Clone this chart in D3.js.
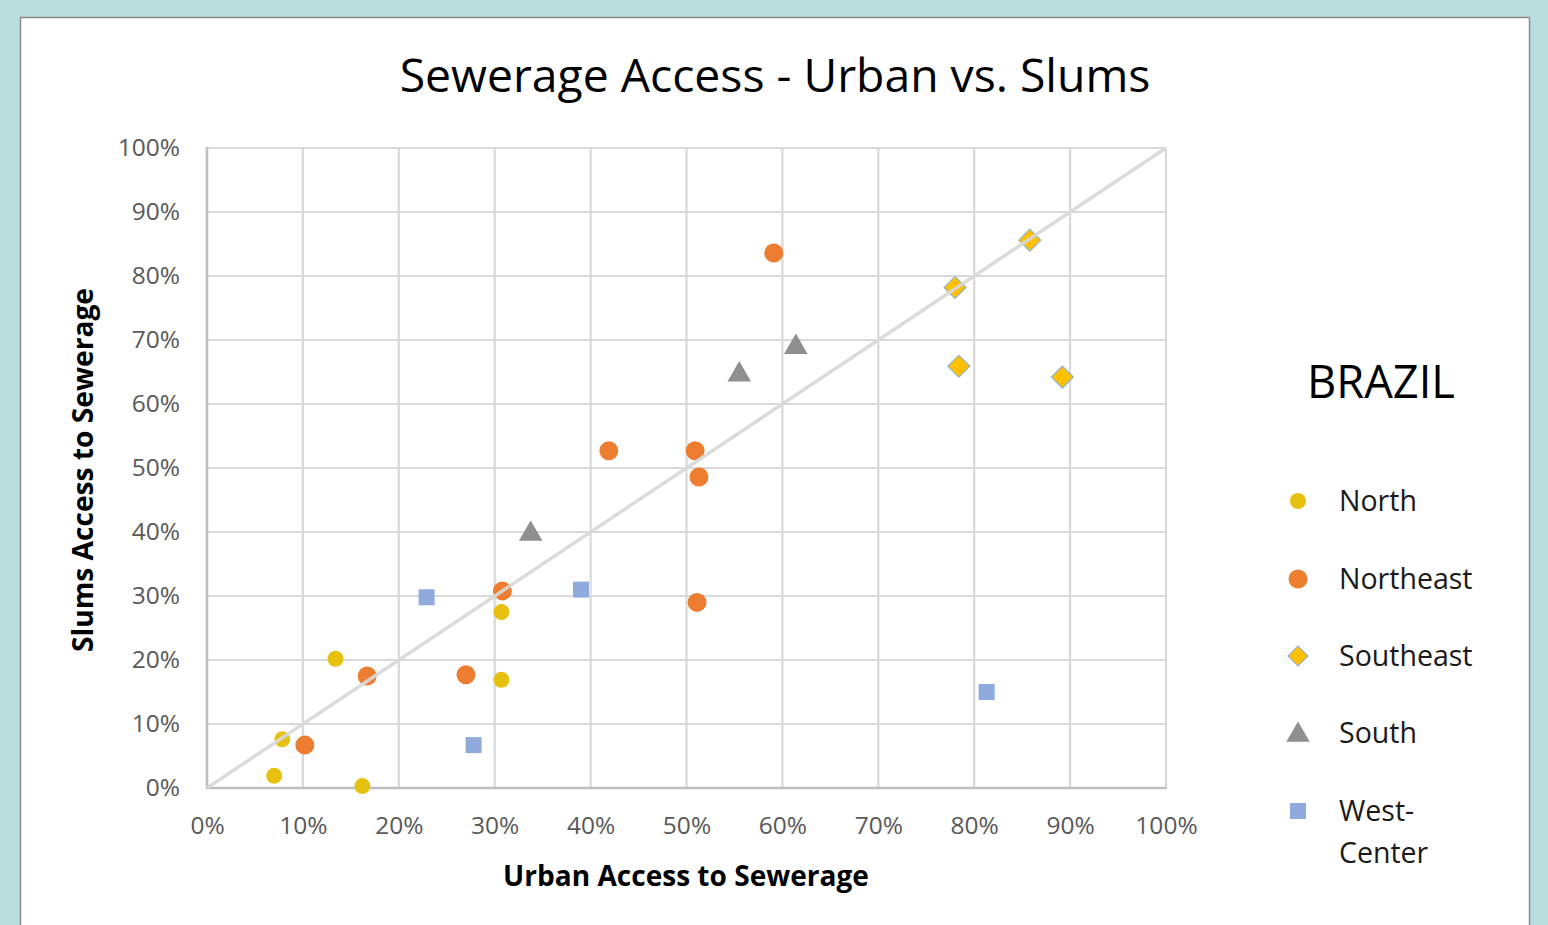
<!DOCTYPE html>
<html><head><meta charset="utf-8">
<script src="https://cdn.jsdelivr.net/npm/d3@7"></script>
<style>
html,body{margin:0;padding:0;background:#badede;}
svg{display:block;}
</style></head>
<body>
<svg id="chart" width="1548" height="925"></svg>
<script>
const ticks = [0,0.1,0.2,0.3,0.4,0.5,0.6,0.7,0.8,0.9,1.0];
const seriesNames = ["North","Northeast","Southeast","South","West-Center"];
const northX = [0.0785,0.070,0.162,0.134,0.307,0.307];
const northY = [0.076,0.019,0.003,0.202,0.275,0.169];
const northeastX = [0.102,0.167,0.270,0.308,0.419,0.509,0.513,0.511,0.591];
const northeastY = [0.067,0.175,0.177,0.308,0.527,0.527,0.486,0.290,0.836];
const southeastX = [0.780,0.858,0.784,0.892];
const southeastY = [0.782,0.856,0.659,0.642];
const southX = [0.3375,0.555,0.614];
const southY = [0.400,0.649,0.692];
const westCenterX = [0.229,0.278,0.390,0.813];
const westCenterY = [0.298,0.067,0.310,0.150];

const svg = d3.select("#chart");
svg.append("rect").attr("x",20.5).attr("y",17.5).attr("width",1509).attr("height",920)
  .attr("fill","#fff").attr("stroke","#8c8c8c").attr("stroke-width",1.5);

const L=207,R=1166,T=148,B=788;
const x = d3.scaleLinear().domain([0,1]).range([L,R]);
const y = d3.scaleLinear().domain([0,1]).range([B,T]);
const pct = d => Math.round(d*100)+"%";
const font = "'Open Sans','Noto Sans',sans-serif";

// gridlines
const g = svg.append("g");
g.selectAll(".vg").data(ticks).join("line")
  .attr("x1",d=>x(d)).attr("x2",d=>x(d)).attr("y1",T).attr("y2",B)
  .attr("stroke","#d9d9d9").attr("stroke-width",2.2);
g.selectAll(".hg").data(ticks).join("line")
  .attr("y1",d=>y(d)).attr("y2",d=>y(d)).attr("x1",L).attr("x2",R)
  .attr("stroke","#d9d9d9").attr("stroke-width",2.2);
// axis lines
svg.append("line").attr("x1",L).attr("x2",L).attr("y1",T-1).attr("y2",B+1).attr("stroke","#bfbfbf").attr("stroke-width",2.5);
svg.append("line").attr("x1",L-1).attr("x2",R+1).attr("y1",B).attr("y2",B).attr("stroke","#bfbfbf").attr("stroke-width",2.5);

// axes labels via d3 axes
const xAxis = d3.axisBottom(x).tickValues(ticks).tickFormat(pct).tickSize(0).tickPadding(29);
const ax = svg.append("g").attr("transform",`translate(0,${B})`).call(xAxis);
ax.select(".domain").remove();
ax.selectAll("text").attr("font-family",font).attr("font-size",24.5).attr("fill","#595959");
const yAxis = d3.axisLeft(y).tickValues(ticks).tickFormat(pct).tickSize(0).tickPadding(27);
const ay = svg.append("g").attr("transform",`translate(${L},0)`).call(yAxis);
ay.select(".domain").remove();
ay.selectAll("text").attr("font-family",font).attr("font-size",24.5).attr("fill","#595959");

// markers
const colors = {North:"#e6c10f",Northeast:"#ed7d31",Southeast:"#ffc000",South:"#8f8f8f","West-Center":"#8faadc"};
function pts(xs,ys){return xs.map((v,i)=>({x:v,y:ys[i]}));}
const mk = svg.append("g");
mk.selectAll(".n").data(pts(northX,northY)).join("circle")
  .attr("cx",d=>x(d.x)).attr("cy",d=>y(d.y)).attr("r",8).attr("fill",colors.North);
mk.selectAll(".ne").data(pts(northeastX,northeastY)).join("circle")
  .attr("cx",d=>x(d.x)).attr("cy",d=>y(d.y)).attr("r",9.5).attr("fill",colors.Northeast);
const diamond = d3.symbol().type(d3.symbolSquare).size(242);
mk.selectAll(".se").data(pts(southeastX,southeastY)).join("path")
  .attr("d",diamond).attr("transform",d=>`translate(${x(d.x)},${y(d.y)}) rotate(45)`)
  .attr("fill",colors.Southeast).attr("stroke","#8fb4cf").attr("stroke-width",1.2);
const tri = d3.symbol().type(d3.symbolTriangle).size(240);
mk.selectAll(".s").data(pts(southX,southY)).join("path")
  .attr("d",tri).attr("transform",d=>`translate(${x(d.x)},${y(d.y)+2})`)
  .attr("fill",colors.South);
mk.selectAll(".w").data(pts(westCenterX,westCenterY)).join("rect")
  .attr("x",d=>x(d.x)-8).attr("y",d=>y(d.y)-8).attr("width",16).attr("height",16)
  .attr("fill",colors["West-Center"]);

// diagonal line on top
svg.append("line").attr("x1",x(0)).attr("y1",y(0)).attr("x2",x(1)).attr("y2",y(1))
  .attr("stroke","#d9d9d9").attr("stroke-width",3.5).attr("opacity",0.92);

function fit(sel,w){const l=sel.node().getComputedTextLength();const fs=+sel.attr("font-size");sel.attr("font-size",fs*w/l);}
// title
const title = svg.append("text").attr("x",775).attr("y",92).attr("text-anchor","middle")
  .attr("font-family",font).attr("font-size",40).attr("fill","#000").text("Sewerage Access - Urban vs. Slums");
fit(title,751);
const xt = svg.append("text").attr("x",686).attr("y",886).attr("text-anchor","middle")
  .attr("font-family",font).attr("font-weight","bold").attr("font-size",24).attr("fill","#000").text("Urban Access to Sewerage");
fit(xt,366);
const yt = svg.append("text").attr("transform","translate(93,470) rotate(-90)").attr("text-anchor","middle")
  .attr("font-family",font).attr("font-weight","bold").attr("font-size",24).attr("fill","#000").text("Slums Access to Sewerage");
fit(yt,364);
const br = svg.append("text").attr("x",1307).attr("y",398)
  .attr("font-family",font).attr("font-size",40).attr("fill","#000").text("BRAZIL");
fit(br,148);

// legend
const legY = [501,579,656,733,811];
const lg = svg.append("g");
seriesNames.forEach((s,i)=>{
  const cy = legY[i], cx = 1298;
  if(s==="North") lg.append("circle").attr("cx",cx).attr("cy",cy).attr("r",8).attr("fill",colors.North);
  if(s==="Northeast") lg.append("circle").attr("cx",cx).attr("cy",cy).attr("r",9.5).attr("fill",colors.Northeast);
  if(s==="Southeast") lg.append("path").attr("d",d3.symbol().type(d3.symbolSquare).size(200)).attr("transform",`translate(${cx},${cy}) rotate(45)`).attr("fill",colors.Southeast).attr("stroke","#8fb4cf").attr("stroke-width",1.2);
  if(s==="South") lg.append("path").attr("d",tri).attr("transform",`translate(${cx},${cy+2})`).attr("fill",colors.South);
  if(s==="West-Center") lg.append("rect").attr("x",cx-8).attr("y",cy-8).attr("width",16).attr("height",16).attr("fill",colors["West-Center"]);
  const t = lg.append("text").attr("x",1339).attr("y",cy+10).attr("font-family",font).attr("font-size",28.5).attr("fill","#1a1a1a");
  if(s==="West-Center"){
    t.append("tspan").attr("x",1339).text("West-");
    t.append("tspan").attr("x",1339).attr("dy",42).text("Center");
  } else t.text(s);
});
</script>
</body></html>
